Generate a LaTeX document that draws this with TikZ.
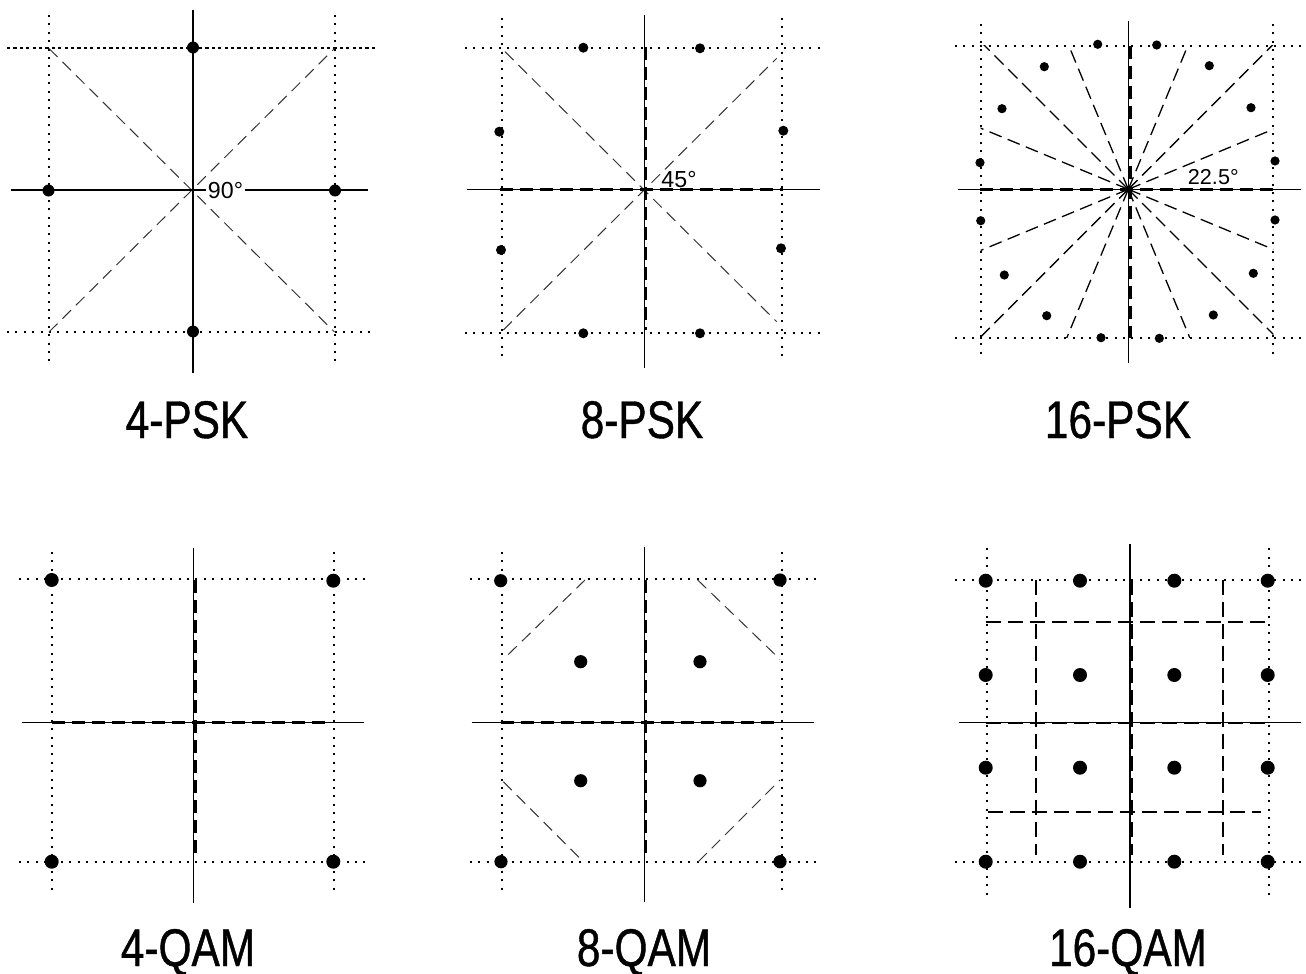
\documentclass[tikz,border=0pt]{standalone}
\usepackage{fontspec}
\setmainfont{Liberation Sans}
\newfontfamily\labfont{Liberation Sans}[FakeStretch=0.8,FakeBold=0.8]
\begin{document}
\begin{tikzpicture}[x=0.5pt,y=-0.5pt,
  axisline/.style={line width=0.6pt},
  dotline/.style={line width=1pt,dash pattern=on 1pt off 3.2pt},
  denseline/.style={line width=1pt,dash pattern=on 1.6pt off 1.6pt},
  thindash/.style={line width=0.5pt,dash pattern=on 6pt off 3.5pt,black!80},
  raydash/.style={line width=0.65pt,dash pattern=on 6.5pt off 3.3pt},
  thickdash/.style={line width=1.5pt,dash pattern=on 6.5pt off 3.5pt},
  griddash/.style={line width=1.1pt,dash pattern=on 7.5pt off 3.5pt},
  biglabel/.style={anchor=base,inner sep=0pt,font=\labfont\fontsize{26.5}{30}\selectfont},
  deglabel/.style={inner sep=0pt,font=\fontsize{11.6}{13}\selectfont}]
\fill[white] (0,0) rectangle (1306,974);
\useasboundingbox (0,0) rectangle (1306,974);

% ---------- 4-PSK ----------
\draw[dotline] (49,15) -- (49,363);
\draw[dotline] (334.5,15) -- (334.5,363);
\draw[denseline] (7,48.5) -- (375,48.5);
\draw[dotline] (7,332) -- (372,332);
\draw[thindash] (49,48.5) -- (334.5,332);
\draw[thindash] (49,332) -- (334.5,48.5);
\draw[axisline] (193,10) -- (193,373);
\draw[axisline] (11,190) -- (368,190);
\foreach \p in {(193,47.5),(48.5,190.5),(335,190.5),(193,331.5)} \fill \p circle (6);
\node[deglabel,fill=white,inner xsep=1pt] (l90) at (225.5,190.5) {90°};
\node[biglabel] (t4psk) at (187,438) {4-PSK};

% ---------- 8-PSK ----------
\draw[dotline] (501.7,18) -- (501.7,358);
\draw[dotline] (781.7,18) -- (781.7,358);
\draw[dotline] (465,47.7) -- (822,47.7);
\draw[dotline] (465,333.3) -- (822,333.3);
\draw[thindash] (505,51.7) -- (776.7,321.7);
\draw[thindash] (503.3,330) -- (776.7,58.3);
\draw[axisline] (644.3,15) -- (644.3,368);
\draw[axisline] (466.7,189.3) -- (820,189.3);
\draw[thickdash] (500,189.3) -- (783,189.3);
\draw[thickdash] (645.6,46.7) -- (645.6,330);
\foreach \p in {(583.3,47.7),(700,48.3),(499.3,131.7),(783.3,130.7),
  (501,250),(781,248.3),(583.3,333.3),(700,333.3)} \fill \p circle (5);
\node[deglabel,fill=white,anchor=base] (l45) at (679,187) {45°};
\node[biglabel] (t8psk) at (642,438) {8-PSK};

% ---------- 16-PSK ----------
\draw[dotline] (980.7,24) -- (980.7,356);
\draw[dotline] (1273.3,24) -- (1273.3,356);
\draw[dotline] (955,45.7) -- (1303,45.7);
\draw[dotline] (955,337.7) -- (1303,337.7);
\begin{scope}
  \clip (980.7,45.7) rectangle (1273.3,337.7);
  \coordinate (c16) at (1128.3,189.3);
  \foreach \a in {22.5,45,67.5,112.5,135,157.5,202.5,225,247.5,292.5,315,337.5}
    \draw[raydash] (c16) -- ++(\a:400);
\end{scope}
\draw[axisline] (1128.3,20.7) -- (1128.3,363);
\draw[axisline] (958.3,189.3) -- (1301,189.3);
\draw[thickdash] (980,189.3) -- (1273.3,189.3);
\draw[thickdash] (1130.4,45.7) -- (1130.4,337.7);
\foreach \p in {(1097.7,44.3),(1156.7,45),(1044.3,66.7),(1209.3,65.7),
  (1002,108.7),(1251,107.7),(980,162.7),(1275,161),(980.7,220.7),(1275,220),
  (1004.3,275),(1253.3,273.3),(1046.7,315.7),(1213.3,315),(1101,337.7),(1159.3,338.3)}
  \fill \p circle (4.6);
\node[deglabel,anchor=base,font=\fontsize{10.8}{12}\selectfont] (l225) at (1213.3,184.3) {22.5°};
\node[biglabel] (t16psk) at (1118,438) {16-PSK};

% ---------- 4-QAM ----------
\draw[dotline] (51.7,551.7) -- (51.7,891.7);
\draw[dotline] (334.3,551.7) -- (334.3,891.7);
\draw[dotline] (19,579.3) -- (366.7,579.3);
\draw[dotline] (19,861.7) -- (366.7,861.7);
\draw[axisline] (193.3,548.3) -- (193.3,902.7);
\draw[axisline] (22.3,722.3) -- (364.3,722.3);
\draw[thickdash] (51.7,722.3) -- (326.7,722.3);
\draw[thickdash] (195,580) -- (195,858.3);
\foreach \p in {(51.7,580),(333.3,580.7),(51.7,861.7),(333.3,861.7)} \fill \p circle (7);
\node[biglabel] (t4qam) at (188,966) {4-QAM};

% ---------- 8-QAM ----------
\draw[dotline] (501.7,551.7) -- (501.7,891.7);
\draw[dotline] (781.7,551.7) -- (781.7,891.7);
\draw[dotline] (470,579) -- (818.3,579);
\draw[dotline] (470,862.3) -- (818.3,862.3);
\draw[thindash] (585,580) -- (503.3,659.3);
\draw[thindash] (697.7,580) -- (780,659.3);
\draw[thindash] (503.3,781.7) -- (583.3,861.7);
\draw[thindash] (698.3,861.7) -- (780,780);
\draw[axisline] (644.3,547.3) -- (644.3,902.3);
\draw[axisline] (471.7,722.3) -- (814,722.3);
\draw[thickdash] (500.7,722.3) -- (780,722.3);
\draw[thickdash] (645.8,580) -- (645.8,855);
\foreach \p in {(500.7,580.7),(780,580),(501,861.7),(780,861.7),
  (580.7,661.7),(700,661.7),(580.7,780.7),(700,780.7)} \fill \p circle (6.6);
\node[biglabel] (t8qam) at (644,966) {8-QAM};

% ---------- 16-QAM ----------
\draw[dotline] (986.7,548.3) -- (986.7,896.7);
\draw[dotline] (1269.3,548.3) -- (1269.3,896.7);
\draw[dotline] (955,580) -- (1301.7,580);
\draw[dotline] (955,862.3) -- (1301.7,862.3);
\draw[axisline] (1130,544) -- (1130,908.3);
\draw[axisline] (959,722.7) -- (1301,722.7);
\foreach \x in {1036,1131.5,1222.7} \draw[griddash] (\x,580) -- (\x,855);
\draw[griddash] (985.7,622.3) -- (1268.3,622.3);
\draw[griddash] (985.7,722.7) -- (1268.3,722.7);
\draw[griddash] (987.7,811.7) -- (1261,811.7);
\foreach \x in {985.7,1080,1174.3,1267.7}
  \foreach \y in {580.7,675,767.7,861.7}
    \fill (\x,\y) circle (7);
\node[biglabel] (t16qam) at (1128,966) {16-QAM};
\end{tikzpicture}
\end{document}
